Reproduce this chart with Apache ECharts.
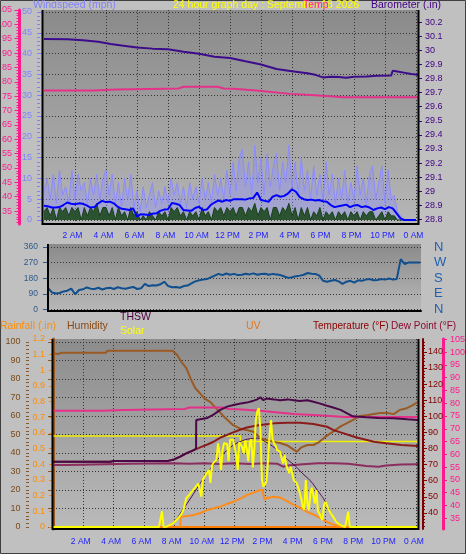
<!DOCTYPE html>
<html><head><meta charset="utf-8">
<script src="https://cdn.jsdelivr.net/npm/echarts@6/dist/echarts.min.js"></script>
<style>html,body{margin:0;padding:0;background:#c0c0c0;}#c{width:466px;height:554px;}</style>
</head><body><div id="c"></div>
<script>
// ---------------- tick labels ----------------
const hourTicks = [2,4,6,8,10,12,14,16,18,20,22,24];
const windTicks = [0,5,10,15,20,25,30,35,40,45,50];
const tempInTicks = [35,40,45,50,55,60,65,70,75,80,85,90,95,100,105];
const baroTicks = [28.8,28.9,29,29.1,29.2,29.3,29.4,29.5,29.6,29.7,29.8,29.9,30,30.1,30.2];
const dirTicks = [0,90,180,270,360];
const dirNames = ['N','E','S','W','N'];
const humTicks = [0,10,20,30,40,50,60,70,80,90,100];
const rainTicks = [0,0.1,0.2,0.3,0.4,0.5,0.6,0.7,0.8,0.9,1,1.1,1.2];
const tempTicks = [40,50,60,70,80,90,100,110,120,130,140];

// ---------------- top chart: wind (mph), every 0.2 h ----------------
const windStep = 0.2;
const windGust = [7,10,5,11,4,12,6,8,4,12,
 5,11,7,9,4,10,6,11,5,10,
 12,6,11,4,9,3,10,5,11,3,
 7,2,8,3,6,9,3,7,4,8,
 4,10,6,9,4,8,3,9,5,8,
 4,10,5,9,4,11,6,10,5,12,
 6,14,7,15,17,8,14,6,18,9,
 15,6,16,8,13,16,7,14,9,18,
 8,14,6,15,7,12,5,13,6,11,
 5,14,6,11,4,10,5,12,4,9,
 5,13,6,10,4,11,13,5,9,13,
 4,12,5,6,2,1,0,0,0,0,
 0];
const windSpeed = [2,3,1,3,0,3,2,3,1,3,
 2,3,0,3,1,3,2,4,1,3,
 3,1,3,0,3,1,2,0,3,1,
 2,0,1,0,2,1,0,2,1,2,
 0,3,2,3,1,2,0,2,1,2,
 0,3,1,2,0,3,2,3,1,3,
 2,3,1,3,3,1,3,2,4,1,
 3,2,3,0,3,3,1,3,2,4,
 1,3,0,3,1,3,0,2,1,3,
 0,2,1,2,0,2,1,2,0,2,
 1,2,0,2,1,2,2,0,1,2,
 0,2,1,1,0,0,0,0,0,0,
 0];
// 10-min average wind, every 0.25 h
const windAvgStep = 0.25;
const windAvg = [3.4,3.3,3.0,3.0,3.1,3.6,4.2,3.9,3.8,4.0,
 3.9,3.5,3.0,3.1,4.0,4.6,4.3,4.4,4.0,3.2,
 2.7,2.6,2.4,2.8,0.8,1.4,1.3,1.2,1.5,1.6,
 2.2,2.5,2.6,4.1,3.9,3.6,2.4,2.3,2.2,2.9,
 3.2,2.4,2.5,3.6,4.2,4.7,4.4,4.8,4.6,5.0,
 5.0,5.0,4.9,5.2,5.3,6.6,4.8,4.6,4.4,5.6,
 6.0,5.6,5.8,6.4,7.4,6.8,5.5,5.0,4.8,4.9,
 4.7,4.8,4.5,4.4,3.6,3.1,3.3,3.5,3.7,3.1,
 3.5,3.6,3.1,3.3,3.0,2.4,2.8,3.0,2.6,3.1,
 2.8,1.6,0.4,0.0,0.0,0.0,0.0];
// barometer (in)
const baroTime = [0,1.5,2.5,3.5,4.3,5.0,6.0,7.0,8.0,9.0,10.0,11.0,12.0,13.0,14.0,15.0,16.0,17.0,17.5,18.0,18.5,19.0,19.5,20.0,20.8,21.5,22.4,22.5,22.8,23.3,23.7,24.13];
const baroValue = [30.08,30.078,30.072,30.06,30.045,30.035,30.02,30.012,30.008,29.99,29.975,29.955,29.945,29.922,29.9,29.868,29.852,29.838,29.826,29.808,29.812,29.81,29.806,29.812,29.815,29.82,29.822,29.855,29.85,29.84,29.832,29.826];
// Temp (pink, °F)
const tempInTime = [0,3.2,3.3,4.7,4.8,8.7,9.0,11.2,11.6,12.2,13.7,15.9,17.5,19.3,24.13];
const tempInValue = [77.0,77.0,77.3,77.3,77.7,77.7,78.3,78.3,77.7,77.6,77.0,75.8,75.3,74.6,74.6];

// ---------------- middle chart: wind direction (deg), every 0.25 h ----------------
const dirStep = 0.25;
const windDir = [125,98,92,95,104,108,120,88,112,116,
 127,120,118,125,115,122,125,118,128,122,
 120,125,130,118,122,148,135,140,138,145,
 160,135,128,130,125,135,138,150,162,168,
 172,175,185,195,205,198,207,200,205,198,
 200,206,202,208,200,204,206,200,205,202,
 198,190,182,186,192,195,200,210,206,205,
 195,165,160,165,170,162,148,160,165,155,
 168,165,172,175,168,170,175,172,178,172,
 176,290,262,270,270,270,270];

// ---------------- bottom chart ----------------
const humTime = [0,0.3,0.6,3.5,3.6,7.9,8.2,8.5,8.8,9.1,9.4,9.7,10.0,10.4,10.8,11.3,11.9,12.4,12.8,13.25,13.7,14.1,14.6,15.0,15.5,15.9,16.1,16.4,16.8,17.2,17.6,18.0,18.5,19.0,19.8,20.3,20.8,21.6,22.1,22.5,22.9,23.3,23.8,24.11];
const humValue = [94.0,93.5,94.2,94.2,95.3,95.3,93,89,86,80,75,72.4,69.5,67.5,64,59.6,55,53,52.4,51.5,48,47,46,45.4,44,41.8,40.7,43,44.3,44.3,46,48.8,51.5,54.4,57.8,60,60.5,61.6,61.6,61,63.2,64,66,67.7];
const tempTime = [0,3.8,4.0,7.6,8.0,8.4,8.8,9.3,9.8,10.2,10.6,11.0,11.5,11.9,12.4,12.8,13.3,13.7,14.6,15.5,16.3,17.2,18.1,18.5,19.0,20.0,21.2,22.0,23.0,24.11];
const tempValue = [71.8,71.8,72.3,72.3,73.2,75,77,79,81,82.5,84.2,86.5,88.5,90,91.8,93,94,94.6,95.6,96,96,95.2,93.5,91.5,90,87,84.2,83.2,82.2,81.5];
const thswTime = [0,3.8,4.0,7.6,8.0,8.4,8.8,9.3,9.45,9.46,10.2,10.6,11.05,11.5,11.93,12.4,12.8,13.25,13.5,13.7,13.9,14.1,14.6,15.0,15.5,15.9,16.3,16.8,17.2,17.6,18.1,18.5,19.0,19.4,19.8,20.7,21.5,22.5,23.4,24.11];
const thswValue = [71.8,71.8,72.3,72.3,73.2,75,77,79,80,97.7,99,101,104,106,107,108,108.5,109.7,110.5,111.8,110,111,110.5,110,110.5,110,109.5,110,109,108,106.5,105.5,104,102,100,99.4,99,98.8,98.1,97.7];
const dewTime = [0,1.0,1.1,5.0,8.0,9.0,10.0,11.0,12.0,13.0,14.0,14.8,15.2,15.5,16.5,17.5,18.5,19.5,20.7,21.5,22.0,23.0,24.11];
const dewValue = [69.7,69.7,70.6,70.6,70.8,70.5,70.9,70.4,70.8,70.3,70.8,70.6,68.7,69.5,70.2,70.8,70.8,70.5,69.1,68.7,69.5,70.0,70.2];
const uvTime = [8.4,8.45,8.7,9.0,9.3,9.7,10.2,10.6,11.05,11.5,11.9,12.4,12.8,13.25,13.7,13.85,13.95,14.1,14.57,15.0,15.4,15.9,16.3,16.8,17.2,17.6,18.1,18.5,18.8,19.0];
const uvValue = [0,0.82,0.85,0.9,0.96,1.1,1.36,1.5,1.62,1.85,2.0,2.29,2.55,2.74,2.95,2.95,2.2,2.3,2.42,2.35,2.1,1.76,1.55,1.2,1.0,0.75,0.4,0.2,0.08,0];
// solar radiation (W/m²), every 0.1 h from 7.0 h
const solarStart = 7.0, solarStep = 0.1;
const solar = [0,0,100,0,0,2,6,12,18,22,
 28,40,52,60,66,85,105,140,183,190,
 204,212,230,240,252,262,278,289,193,305,
 318,330,350,364,281,390,409,400,428,534,
 470,364,492,534,545,530,420,556,548,556,
 566,460,364,540,548,510,470,552,500,420,
 540,560,380,500,683,740,758,619,300,257,
 260,290,420,577,683,560,534,520,492,500,
 480,440,406,460,396,385,343,385,340,300,
 300,280,250,215,180,130,110,300,151,108,
 215,250,257,150,236,100,87,60,45,140,
 160,140,115,95,80,66,50,35,25,18,
 12,6,3,0,0,98,0];
const solarMaxTime = [7.5,8.0,8.5,9.0,9.5,10.0,10.5,11.0,11.5,12.0,12.5,13.0,13.5,14.0,14.5,15.0,15.5,16.0,16.5,17.0,17.5,18.0,18.5,19.0,19.3];
const solarMaxValue = [0,35,100,170,245,320,385,445,490,527,550,563,567,545,515,475,430,390,340,295,230,160,66,12,0];
const solarRefTime = [0,12.37,12.38,24.11];
const solarRefValue = [581,581,545,545];
const rainTime = [0,24.11];
const rainValue = [0,0];

// ---------------- helpers ----------------
const FONT = "'Liberation Sans', Arial, sans-serif";
const dotted = {color:'#353535', type:[1,2], width:1};
function grad(a,b){return {type:'linear',x:0,y:0,x2:0,y2:1,colorStops:[{offset:0,color:a},{offset:1,color:b}]};}
function hourLabel(v){const h=Math.round(v)%24; if(h===0) return '0 AM'; if(h<12) return h+' AM'; if(h===12) return '12 PM'; return (h-12)+' PM';}
function range(a,b,s){const r=[];for(let i=0;a+i*s<=b+1e-9;i++)r.push(Math.round((a+i*s)*1000)/1000);return r;}
function stepPairs(start,step,arr){return arr.map((v,i)=>[Math.round((start+i*step)*1000)/1000,v]);}
function zipPairs(ts,vs){return ts.map((t,i)=>[t,vs[i]]);}
function yMajor(o){
  return {type:'value', gridIndex:o.grid, position:o.pos, offset:o.offset, min:o.min, max:o.max,
    axisLine:{show:!!o.line, lineStyle:o.line||{}},
    axisTick:{show:o.tickLen>0, length:o.tickLen||1, customValues:o.ticks, lineStyle:{color:o.tickColor||o.color,width:1}},
    axisLabel:{show:true, customValues:o.ticks, color:o.color, fontSize:o.fontSize||9, fontFamily:FONT, margin:o.margin, formatter:o.formatter},
    splitLine:{show:!!o.split, lineStyle:dotted}};
}
function yMinor(o){
  return {type:'value', gridIndex:o.grid, position:o.pos, offset:o.offset, min:o.min, max:o.max,
    axisLine:{show:false}, axisTick:{show:true,length:o.len,customValues:o.ticks,lineStyle:{color:o.color,width:1}},
    axisLabel:{show:false, customValues:o.ticks}, splitLine:{show:false}};
}
function xAx(grid,min,max,labels,margin){
  return {type:'value', gridIndex:grid, min:min, max:max,
    axisLine:{show:true,onZero:false,lineStyle:{color:'#000',width:2}},
    axisTick:{show:false, customValues:hourTicks},
    axisLabel:{show:labels, customValues:hourTicks, formatter:hourLabel, color:'#2020ff', fontSize:8.5, fontFamily:FONT, margin:margin, padding:[0,5,0,0]},
    splitLine:{show:labels, lineStyle:dotted}};
}
function line(name,xi,yi,data,color,width,extra){
  return Object.assign({name:name,type:'line',xAxisIndex:xi,yAxisIndex:yi,data:data,showSymbol:false,symbol:'none',
    lineStyle:{color:color,width:width},itemStyle:{color:color},animation:false},extra||{});
}
function txt(x,y,s,color,size){return {type:'text',x:x,y:y,z:100,style:{text:s,fill:color,font:(size||10.5)+'px '+FONT,verticalAlign:'middle'}};}
function vline(x,y1,y2,color,w){return {type:'line',z:100,shape:{x1:x,y1:y1,x2:x,y2:y2},style:{stroke:color,lineWidth:w}};}

const chart = echarts.init(document.getElementById('c'));
chart.setOption({
  backgroundColor:'#c0c0c0',
  animation:false,
  grid:[
    {left:43,right:48,top:10,height:214,show:true,borderWidth:0,backgroundColor:grad('#8a8a8a','#b6b6b6'),outerBoundsMode:'none'},
    {left:48,right:45,top:244,height:67,show:true,borderWidth:0,backgroundColor:grad('#8a8a8a','#b8b8b8'),outerBoundsMode:'none'},
    {left:53,right:48,top:339,height:190,show:true,borderWidth:0,backgroundColor:grad('#8c8c8c','#bababa'),outerBoundsMode:'none'}
  ],
  xAxis:[ xAx(0,-0.065,24.13,true,7), xAx(1,0,24.06,false,0), xAx(2,0,24.11,true,8) ],
  yAxis:[
    yMajor({grid:0,pos:'left',offset:3,min:-0.96,max:50.48,ticks:windTicks,color:'#8080ff',tickLen:6,margin:8,split:true}),
    yMinor({grid:0,pos:'left',offset:3,min:-0.96,max:50.48,ticks:range(0,50,1),color:'#8080ff',len:3}),
    yMajor({grid:0,pos:'left',offset:23.5,min:30.5,max:105,ticks:tempInTicks,color:'#ff1a8c',tickLen:5,margin:7.5,line:{color:'#ff1a8c',width:3}}),
    yMinor({grid:0,pos:'left',offset:23.5,min:30.5,max:105,ticks:range(31,105,1),color:'#ff1a8c',len:3}),
    yMajor({grid:0,pos:'right',offset:0,min:28.768,max:30.286,ticks:baroTicks,color:'#400080',tickLen:4,margin:7}),
    yMajor({grid:1,pos:'left',offset:0,min:-8.6,max:377,ticks:dirTicks,color:'#2f5a8a',tickLen:5,margin:10,split:true,fontSize:8.5}),
    yMajor({grid:1,pos:'right',offset:0,min:-8.6,max:377,ticks:dirTicks,color:'#2060b0',tickLen:0,margin:13,fontSize:13,formatter:function(v){return dirNames[dirTicks.indexOf(v)];}}),
    yMajor({grid:2,pos:'left',offset:24,min:-1.1,max:101.6,ticks:humTicks,color:'#7a4a1a',tickColor:'#8b5a2a',tickLen:5,margin:8.5,split:true,line:{color:'#9a5a24',width:3}}),
    yMinor({grid:2,pos:'left',offset:24,min:-1.1,max:101.6,ticks:range(0,100,2),color:'#8b5a2a',len:3}),
    yMajor({grid:2,pos:'left',offset:0,min:-0.0127,max:1.2,ticks:rainTicks,color:'#ff8c00',tickLen:4,margin:8}),
    yMajor({grid:2,pos:'right',offset:5,min:30,max:148,ticks:tempTicks,color:'#800000',tickLen:4,margin:5,line:{color:'#800000',width:2}}),
    yMinor({grid:2,pos:'right',offset:5,min:30,max:148,ticks:range(32,146,2),color:'#800000',len:2}),
    yMajor({grid:2,pos:'right',offset:25,min:30.8,max:105.1,ticks:tempInTicks,color:'#ff1a8c',tickLen:4,margin:7,line:{color:'#ff1a8c',width:3}}),
    yMinor({grid:2,pos:'right',offset:25,min:30.8,max:105.1,ticks:range(31,105,1),color:'#ff1a8c',len:2}),
    {type:'value',gridIndex:2,show:false,min:-13,max:1200},
    {type:'value',gridIndex:2,show:false,min:-0.16,max:15}
  ],
  series:[
    line('Wind gust',0,0,stepPairs(0,windStep,windGust),'#8c8cff',1,{areaStyle:{color:'rgba(140,140,255,0.55)',origin:'auto'}}),
    line('Windspeed',0,0,stepPairs(0,windStep,windSpeed),'#1a401a',1,{areaStyle:{color:'#1f4a1f',opacity:0.9,origin:'auto'}}),
    line('Wind avg',0,0,stepPairs(0,windAvgStep,windAvg),'#0000ff',2),
    line('Temp',0,2,zipPairs(tempInTime,tempInValue),'#e5318a',2),
    line('Barometer',0,4,zipPairs(baroTime,baroValue),'#3c0c8c',2),
    line('Wind direction',1,5,stepPairs(0,dirStep,windDir),'#0f4f8f',2),
    line('Rainfall',2,9,zipPairs(rainTime,rainValue),'#ff8000',2),
    line('Solar ref',2,14,zipPairs(solarRefTime,solarRefValue),'#f0f000',1.5),
    line('Humidity',2,7,zipPairs(humTime,humValue),'#9a5a24',2),
    line('Temp',2,12,zipPairs(tempInTime,tempInValue),'#e5318a',2),
    line('Dew Point',2,10,zipPairs(dewTime,dewValue),'#8b2d5e',2),
    line('Temperature',2,10,zipPairs(tempTime,tempValue),'#8b1c1c',2),
    line('THSW',2,10,zipPairs(thswTime,thswValue),'#4a0848',2),
    line('Solar max',2,14,zipPairs(solarMaxTime,solarMaxValue),'#500a50',1,{smooth:true}),
    line('UV',2,15,zipPairs(uvTime,uvValue),'#ff8c1a',2),
    line('Solar',2,14,[[0,0]].concat(stepPairs(solarStart,solarStep,solar),[[24.11,0]]),'#ffff00',2)
  ],
  graphic:[
    vline(42.5,10,225,'#000',2), vline(418.5,10,225,'#000',2),
    vline(48,244,312,'#000',2),
    vline(52.5,339,530,'#000',2), vline(418.5,339,530,'#000',2),
    {type:'rect',z:100,shape:{x:0.5,y:0.5,width:465,height:553},style:{fill:null,stroke:'#404040',lineWidth:1}},
    txt(33,5,'Windspeed (mph)','#8080ff'),
    txt(173,5,'24 hour graph day : September 18 2026','#ffff00'),
    txt(303,5,'Temp','#ff2090'),
    txt(371,5,'Barometer (.in)','#400080'),
    txt(0,326,'Rainfall (.in)','#ff8c00'),
    txt(67,326,'Humidity','#8b4a14'),
    txt(120,317,'THSW','#4b0040'),
    txt(120,331,'Solar','#ffff00'),
    txt(246,326,'UV','#e07820'),
    txt(313,326,'Temperature (°F)','#8b0000',10),
    txt(391,326,'Dew Point (°F)','#8b0a30',10)
  ]
});
</script></body></html>
